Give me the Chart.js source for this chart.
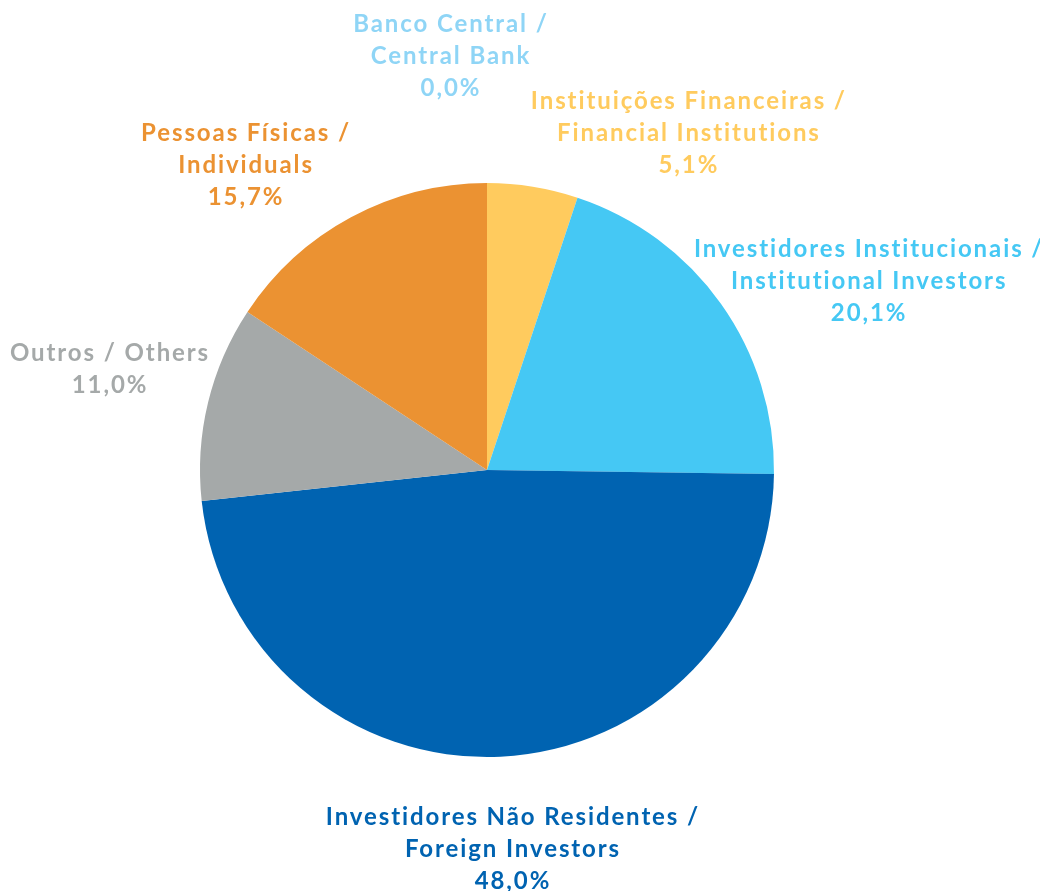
<!DOCTYPE html>
<html lang="pt">
<head>
  <meta charset="UTF-8">
  <title>Pie</title>
  <style>
    html, body { margin: 0; padding: 0; background: #fff; }
    #wrap { width: 1040px; height: 891px; }
  </style>
</head>
<body>
  <div id="wrap"><canvas id="pieChart"></canvas></div>

  <script src="https://cdn.jsdelivr.net/npm/chart.js@4/dist/chart.umd.min.js"></script>
  <script>
    // categorias (linhas do rótulo) e valores em %
    const categories = [
      ["Banco Central /", "Central Bank"],
      ["Instituições Financeiras /", "Financial Institutions"],
      ["Investidores Institucionais /", "Institutional Investors"],
      ["Investidores Não Residentes /", "Foreign Investors"],
      ["Outros / Others"],
      ["Pessoas Físicas /", "Individuals"]
    ];
    const values = [0.0, 5.1, 20.1, 48.0, 11.0, 15.7];
    const sliceColors = ["#8fd5f6", "#ffcb5e", "#45c8f4", "#0063b1", "#a5a9a9", "#eb9232"];
    const textColors = ["#8fd5f6", "#ffcb5e", "#45c8f4", "#0063b1", "#a5a9a9", "#eb9232"];

    // posição do centro de cada rótulo, em múltiplos do raio a partir do centro
    const labelOffsets = [
      [-0.129, -1.443], [0.700, -1.174], [1.328, -0.659],
      [0.087, 1.321], [-1.317, -0.352], [-0.843, -1.063]
    ];

    const outsideLabels = {
      id: "outsideLabels",
      afterDraw(chart) {
        const ctx = chart.ctx;
        const arcs = chart.getDatasetMeta(0).data;
        ctx.save();
        ctx.font = "bold 24px Lato";
        ctx.letterSpacing = "1.9px";
        ctx.textAlign = "center";
        ctx.textBaseline = "middle";
        const lineH = 32;
        arcs.forEach((arc, i) => {
          const lines = categories[i].concat([values[i].toFixed(1).replace(".", ",") + "%"]);
          const cx = arc.x + labelOffsets[i][0] * arc.outerRadius;
          const cy = arc.y + labelOffsets[i][1] * arc.outerRadius;
          const top = cy - (lines.length - 1) * lineH / 2;
          ctx.fillStyle = textColors[i];
          // o espaçamento extra entra depois da última letra: compensar
          lines.forEach((t, j) => ctx.fillText(t, cx + 1, top + j * lineH));
        });
        ctx.restore();
      }
    };

    new Chart(document.getElementById("pieChart"), {
      type: "pie",
      data: {
        labels: categories.map(c => c.join(" ")),
        datasets: [{
          data: values,
          backgroundColor: sliceColors,
          borderWidth: 0
        }]
      },
      options: {
        responsive: true,
        maintainAspectRatio: false,
        animation: false,
        layout: { padding: { top: 183, bottom: 134, left: 200, right: 266 } },
        plugins: { legend: { display: false }, tooltip: { enabled: false } }
      },
      plugins: [outsideLabels]
    });
  </script>
</body>
</html>
